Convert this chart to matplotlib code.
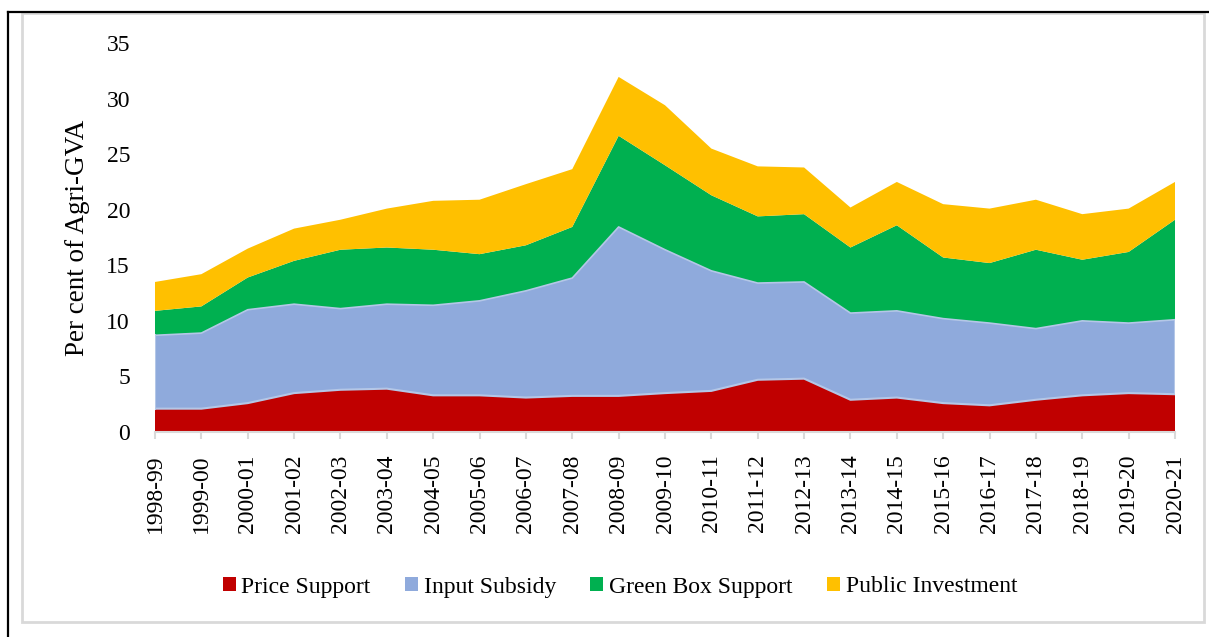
import matplotlib
matplotlib.use("Agg")
import matplotlib.pyplot as plt
from matplotlib.lines import Line2D
from matplotlib.patches import Rectangle, Patch
import numpy as np

years = ["1998-99", "1999-00", "2000-01", "2001-02", "2002-03", "2003-04", "2004-05",
         "2005-06", "2006-07", "2007-08", "2008-09", "2009-10", "2010-11", "2011-12",
         "2012-13", "2013-14", "2014-15", "2015-16", "2016-17", "2017-18", "2018-19",
         "2019-20", "2020-21"]
price_support = [2.1, 2.1, 2.6, 3.5, 3.8, 3.9, 3.3, 3.3, 3.1, 3.25, 3.25, 3.5, 3.7, 4.7,
                 4.8, 2.9, 3.1, 2.6, 2.4, 2.9, 3.3, 3.5, 3.4]
input_subsidy = [6.6, 6.8, 8.4, 8.0, 7.3, 7.6, 8.1, 8.5, 9.6, 10.6, 15.2, 12.9, 10.8, 8.7,
                 8.7, 7.8, 7.8, 7.6, 7.4, 6.4, 6.7, 6.3, 6.7]
green_box = [2.2, 2.4, 2.9, 3.9, 5.3, 5.1, 5.0, 4.2, 4.1, 4.6, 8.2, 7.6, 6.8, 6.0, 6.1,
             5.9, 7.7, 5.5, 5.4, 7.1, 5.5, 6.4, 9.0]
public_inv = [2.6, 2.9, 2.6, 2.9, 2.7, 3.5, 4.4, 4.9, 5.5, 5.2, 5.3, 5.4, 4.2, 4.5, 4.2,
              3.6, 3.9, 4.8, 4.9, 4.5, 4.1, 3.9, 3.4]
series_names = ["Price Support", "Input Subsidy", "Green Box Support", "Public Investment"]
colors = ["#C00000", "#8FAADC", "#00B050", "#FFC000"]

plt.rcParams['font.family'] = ['Liberation Serif', 'DejaVu Serif']

W, H = 1209, 637
fig = plt.figure(figsize=(W / 100, H / 100), dpi=100)
ax = fig.add_axes([155 / W, 1 - 432 / H, (1175 - 155) / W, (432 - 43) / H])

x = np.arange(len(years))
data = [price_support, input_subsidy, green_box, public_inv]
ax.stackplot(x, *data, colors=colors, zorder=2)
# light boundary lines around the input subsidy band, as in the original
cum = np.cumsum(np.array(data), axis=0)
edge = "#B4C7E7"
ax.plot(x, cum[0], color=edge, lw=1.5, zorder=3)
ax.plot(x, cum[1], color=edge, lw=1.2, zorder=3)
ax.plot([x[0], x[0]], [cum[0][0], cum[1][0]], color=edge, lw=1.5, zorder=3)
ax.plot([x[-1], x[-1]], [cum[0][-1], cum[1][-1]], color=edge, lw=1.5, zorder=3)

ax.set_xlim(0, len(years) - 1)
ax.set_ylim(0, 35)
ax.set_yticks(np.arange(0, 36, 5))
ax.set_xticks(x)
ax.set_xticklabels(years, rotation=90, fontsize=17)
ax.tick_params(axis='y', length=0, pad=18, labelsize=17)
ax.tick_params(axis='x', length=5, width=1.5, color="#D9D9D9", pad=11, direction='out')
for s in ["top", "right", "left"]:
    ax.spines[s].set_visible(False)
ax.spines["bottom"].set_color("#D9D9D9")
ax.spines["bottom"].set_linewidth(1.5)
ax.spines["bottom"].set_zorder(4)
ax.set_ylabel("Per cent of Agri-GVA", fontsize=19.5, labelpad=12)

handles = [Patch(facecolor=c, edgecolor='none') for c in colors]
fig.legend(handles, series_names, loc='center', bbox_to_anchor=(620 / W, 1 - 587 / H),
           ncol=4, frameon=False, fontsize=17, handlelength=0.55, handleheight=0.55,
           handletextpad=0.25, columnspacing=1.45)

# outer borders
fig.add_artist(Rectangle((22 / W, 1 - 622 / H), (1204 - 22) / W, (622 - 13) / H,
                         transform=fig.transFigure, fill=False, edgecolor="#D9D9D9", lw=2))
fig.add_artist(Line2D([8 / W, 8 / W], [0, 1 - 12 / H], transform=fig.transFigure,
                      color="black", lw=1.6))
fig.add_artist(Line2D([8 / W, 1209 / W], [1 - 12 / H, 1 - 12 / H], transform=fig.transFigure,
                      color="black", lw=1.6))

fig.savefig("out.png", dpi=100, facecolor="white")
